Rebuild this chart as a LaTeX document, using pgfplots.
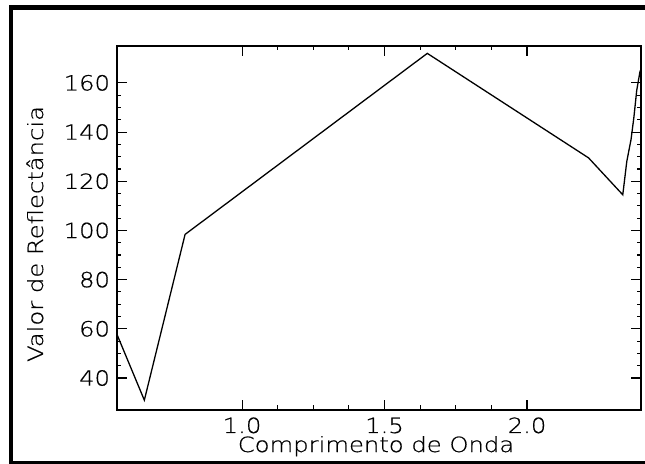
\documentclass[border=0pt]{standalone}
\usepackage{fontspec}
\setmainfont{DejaVu Sans ExtraLight}[FakeStretch=1.16, FakeBold=0.6]
\usepackage{pgfplots}
\pgfplotsset{compat=1.18}
\begin{document}
\begin{tikzpicture}[x=1bp,y=1bp]
\useasboundingbox (0,0) rectangle (645,464);
\fill[white] (0,0) rectangle (645,464);
% outer frame
\fill[black] (9,0) rectangle (13.3,459);
\fill[black] (9,454) rectangle (645,459);
\fill[black] (9,0) rectangle (645,2.5);
\begin{axis}[
  at={(116.7bp,54bp)}, anchor=south west,
  width=524.3bp, height=364bp, scale only axis,
  xmin=0.56, xmax=2.4, ymin=27, ymax=175,
  xtick={1.0,1.5,2.0}, ytick={40,60,80,100,120,140,160},
  minor x tick num=3, minor y tick num=3,
  tick align=inside,
  major tick length=10bp, minor tick length=4.5bp,
  axis line style={line width=2bp},
  every tick/.style={black, line width=1.1bp},
  x tick label style={/pgf/number format/fixed, /pgf/number format/fixed zerofill, /pgf/number format/precision=1},
  xticklabel style={anchor=base, yshift=-23bp, inner sep=0pt},
  yticklabel style={anchor=east, xshift=-6.5bp, inner sep=0pt},
  /pgf/number format/assume math mode=true,
  ticklabel style={font=\fontsize{21}{21}\selectfont},
  label style={font=\fontsize{21}{21}\selectfont},
  xlabel={Comprimento de Onda},
  ylabel={Valor de Reflectância},
  xlabel style={at={(axis description cs:0.4946,-0.1154)}, anchor=base, inner sep=0pt},
  ylabel style={at={(axis description cs:-0.1406,0.4835)}, anchor=base, inner sep=0pt},
  clip=true,
]
\addplot[black, line width=1.3bp, mark=none] coordinates {
(0.56,58) (0.657,31) (0.80,98.4) (1.65,172) (2.216,129.5) (2.336,114.5)
(2.35,128) (2.365,137) (2.375,146) (2.385,157) (2.397,165)
};
\end{axis}
\end{tikzpicture}
\end{document}
